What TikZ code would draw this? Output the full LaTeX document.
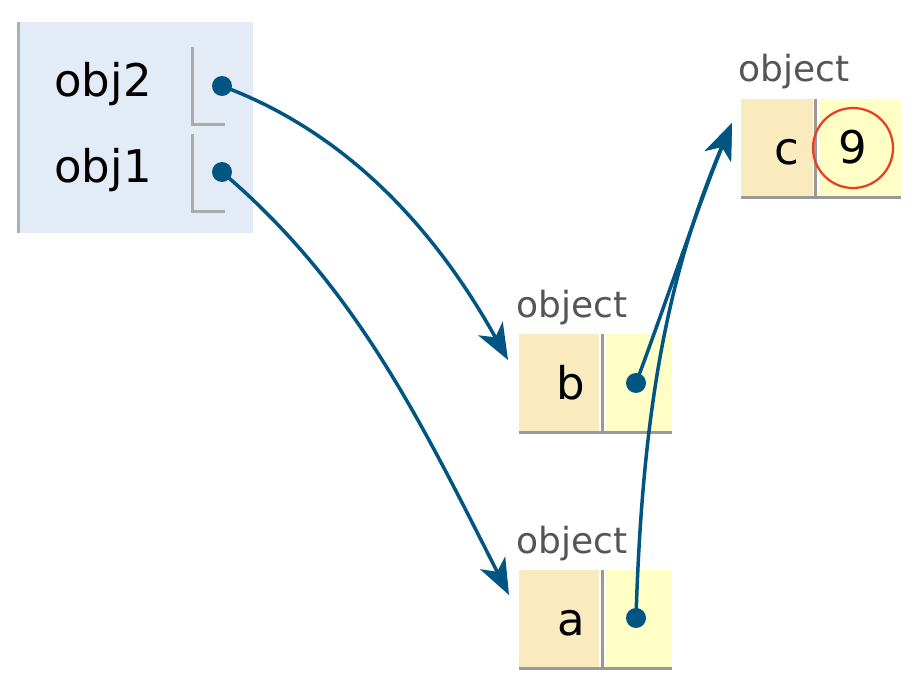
\documentclass[tikz,border=0pt]{standalone}
\usepackage{fontspec}
\setmainfont{DejaVu Sans}
\usetikzlibrary{arrows.meta}
\definecolor{framebg}{HTML}{E2EBF6}
\definecolor{frameedge}{HTML}{A6B3B6}
\definecolor{keybg}{HTML}{FAEBBF}
\definecolor{valbg}{HTML}{FFFFC6}
\definecolor{edgegray}{HTML}{999999}
\definecolor{slotgray}{HTML}{AAAAAA}
\definecolor{ptrblue}{HTML}{005583}
\definecolor{hlred}{HTML}{EE3A1F}
\definecolor{labelgray}{HTML}{555555}

\begin{document}
\begin{tikzpicture}[x=0.5pt, y=-0.5pt,
    varname/.style={font=\fontsize{22.5}{26}\selectfont, inner sep=0pt, anchor=base west},
    objlabel/.style={font=\fontsize{18}{22}\selectfont, text=labelgray, inner sep=0pt, anchor=base west},
    keycell/.style={fill=keybg, minimum height=49pt, inner xsep=7pt, inner ysep=0pt, text width=#1, align=right,
        text height=16.5pt, text depth=0pt, font=\fontsize{22.5}{26}\selectfont},
    valcell/.style={fill=valbg, minimum height=49pt, minimum width=#1, inner sep=0pt},
    refdot/.style={circle, fill=ptrblue, minimum size=10pt, inner sep=0pt},
    ptr/.style={ptrblue, line width=1.75pt, -{Stealth[length=18pt, width=14pt, inset=5pt]}},
    cellline/.style={edgegray, line width=1.5pt},
    slotline/.style={slotgray, line width=1.5pt}]
  \path[use as bounding box] (0,0) rectangle (922,690);

  % frame
  \fill[framebg] (18,22) rectangle (253,233);
  \draw[frameedge, line width=1.5pt] (18,22) -- (18,233);
  \node[varname] (obj2) at (54,97) {obj2};
  \node[varname] (obj1) at (54,183) {obj1};
  \draw[slotline] (192,47) |- (225,125);
  \draw[slotline] (192,134) |- (225,212);
  \node[refdot] (p2) at (222,86) {};
  \node[refdot] (p1) at (222,172) {};

  % object c
  \node[objlabel] (clab) at (738,82) {object};
  \node[keycell=22pt] (ckey) at (777,148) {c};
  \node[valcell=41pt] (cval) at (860,148) {};
  \draw[cellline] ([xshift=-1.5pt]cval.north west) -- ([xshift=-1.5pt]cval.south west);
  \draw[cellline] (ckey.south west) -- (cval.south east);
  \node[circle, draw=hlred, line width=1.1pt, minimum size=40pt, inner sep=0pt,
        text height=16pt, text depth=0pt, font=\fontsize{22.5}{26}\selectfont] (nine) at (853,148) {9};

  % object b
  \node[objlabel] (blab) at (516,317) {object};
  \node[keycell=26pt] (bkey) at (559,383) {b};
  \node[valcell=33pt] (bval) at (638.5,383) {};
  \draw[cellline] ([xshift=-1.5pt]bval.north west) -- ([xshift=-1.5pt]bval.south west);
  \draw[cellline] (bkey.south west) -- (bval.south east);
  \node[refdot] (pb) at (636,383) {};

  % object a
  \node[objlabel] (alab) at (516,553) {object};
  \node[keycell=26pt] (akey) at (559,619) {a};
  \node[valcell=33pt] (aval) at (638.5,619) {};
  \draw[cellline] ([xshift=-1.5pt]aval.north west) -- ([xshift=-1.5pt]aval.south west);
  \draw[cellline] (akey.south west) -- (aval.south east);
  \node[refdot] (pa) at (636,618) {};

  % pointers
  \coordinate (tb) at (508,360);
  \coordinate (ta) at (509,595);
  \coordinate (tc) at (732,123);
  \draw[ptr] (p2.center) .. controls (340,130) and (430,220) .. (tb);
  \draw[ptr] (p1.center) .. controls (355,285) and (420,420) .. (ta);
  \draw[ptr] (pb.center) .. controls (660,320) and (700,200) .. (tc);
  \draw[ptr] (pa.center) .. controls (642,420) and (665,280) .. (tc);
\end{tikzpicture}
\end{document}
